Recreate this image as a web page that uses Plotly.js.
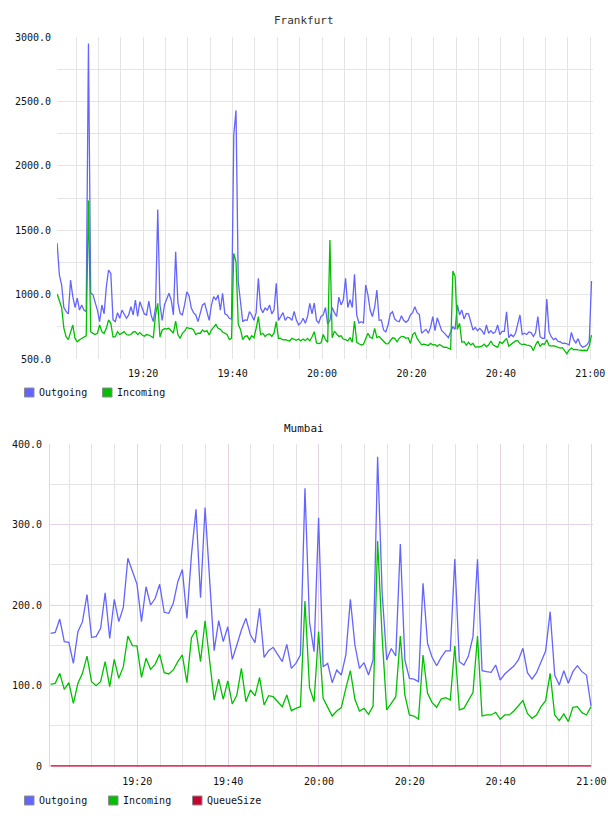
<!DOCTYPE html>
<html>
<head>
<meta charset="utf-8">
<script src="https://cdn.plot.ly/plotly-3.0.1.min.js"></script>
<style>
  html, body { margin: 0; padding: 0; background: #ffffff; }
  #chart { width: 608px; height: 816px; }
</style>
</head>
<body>
<div id="chart"></div>
<script>
// ---- Frankfurt: 30-second samples starting 19:00:46 ----
const frankfurtStart = '19:00:46';
const frankfurtStepSec = 30;
const frankfurtOutgoing = [
  1398,1152,1075,900,870,850,1113,984,900,973,
  880,919,880,867,2950,1012,1000,945,880,790,
  919,850,1061,1191,1165,804,790,860,816,880,
  850,816,842,906,842,958,830,945,896,850,
  842,950,842,790,900,1660,919,800,919,970,
  1010,958,842,1333,940,854,842,920,1022,990,
  896,860,
  842,790,860,920,932,860,800,919,984,960,
  997,880,1010,850,842,816,810,2240,2430,1100,
  960,790,803,800,867,842,800,860,1126,896,
  860,896,880,920,850,880,1088,800,829,860,
  800,825,820,800,870,803,765,780,816,777,
  830,932,850,935,800,780,830,842,900,770,
  800,900,860,830,980,920,960,1126,900,960,
  900,1157,840,780,790,780,1075,997,880,830,
  900,1036,800,803,725,710,764,850,867,810,
  795,790,835,800,785,800,842,860,906,860,
  845,700,715,730,700,745,829,720,820,764,
  720,705,686,665,710,750,730,920,842,880,
  810,854,850,790,725,745,720,738,720,690,
  764,700,720,699,710,764,690,715,715,866,
  665,690,673,700,780,842,690,700,690,710,
  705,675,705,829,673,660,660,966,712,673,
  650,660,636,634,621,623,618,608,706,650,
  625,658,610,592,598,610,640,1105
];
const frankfurtIncoming = [
  1004,945,900,740,673,650,699,764,660,634,
  650,660,673,680,1730,712,699,690,699,764,
  712,699,738,803,777,670,673,712,690,700,
  712,690,686,690,710,712,690,705,686,676,
  690,686,673,665,842,932,670,725,736,733,
  738,720,700,795,690,660,699,716,745,738,
  738,725,
  690,700,700,725,712,720,686,725,745,769,
  738,730,710,700,690,650,660,1320,1255,770,
  730,650,676,680,650,680,665,738,829,690,
  700,675,690,695,675,700,790,660,660,648,
  650,645,640,660,655,645,655,640,655,642,
  660,640,673,712,625,620,625,690,650,630,
  1424,665,716,695,675,680,655,650,640,666,
  630,795,630,618,608,615,655,699,668,660,
  738,666,675,655,634,620,618,640,665,660,
  634,660,676,673,660,665,621,690,705,660,
  635,610,615,612,605,621,610,612,598,612,
  600,590,592,582,575,1183,1140,730,777,630,
  634,608,630,610,621,592,592,595,600,615,
  595,610,640,608,600,590,634,620,640,660,
  600,612,630,640,642,620,612,615,608,606,
  598,565,610,640,598,618,615,650,605,600,
  603,595,590,584,588,565,540,570,585,572,
  575,570,565,566,568,565,600,686
];
const frankfurtTicks = [500, 1000, 1500, 2000, 2500, 3000];

// ---- Mumbai: 1-minute samples starting 19:00:55 ----
const mumbaiStart = '19:00:55';
const mumbaiStepSec = 60;
const mumbaiOutgoing = [
  164.8,166,182.6,154.5,153.6,127.5,166.9,179.3,213,159.8,
  160.7,171,215,158.6,207,179.3,197.1,258,242,226,
  179.3,222.7,200,208,225.7,190.9,189.6,202,229,244,
  183.4,262,319,209,321,232,143.3,180.5,154.5,173,
  132.5,150.3,169,183.4,162.7,153.2,195.9,135,143.3,147.4,
  137.9,129.6,151.1,121.3,127.5,137.9,345,179,142,308.5,
  123.4,127.5,103.5,119.3,113,137.9,207,150.3,121.3,128.4,
  113,131.7,384,215,131.7,146,136.6,275.8,131.7,108.9,
  108,104.8,227,152.4,135,124.6,135,142.9,142.9,257,
  129.6,125.5,136.6,160.7,256.8,118.4,117.2,116.4,125.5,106.8,
  114.3,119.3,124.2,131.7,146.2,115.9,108,115.9,129.6,142.9,
  191.7,113,100.6,118.4,102.7,117.2,124.6,117.2,113,74.5
];
const mumbaiIncoming = [
  101.4,102.7,115.1,95.2,103.5,77.8,102.7,115.1,136.6,104.8,
  99.8,104.8,129.6,98.6,132.5,108.9,123.4,161.5,149.5,149.1,
  110.1,133.7,120.1,126.3,138.7,115.9,114.3,119.3,129.6,137.9,
  103.5,159.4,168.9,129.6,180.5,131,82,108,82.8,105.6,
  77,88.2,121.3,79.9,94.4,87,110.1,75.8,87.4,86.1,
  79.9,73.7,88.2,68.7,71.6,73.7,205,97.7,79.9,166.9,
  84.1,73.7,62.1,68.3,72.5,96.5,118.4,82.8,68.3,71.6,
  64.2,74.5,279.5,160,69.6,77.8,86.1,161.5,88.2,63.4,
  62.1,58.4,137.9,90.3,78.7,72.9,83.2,84.9,82,149.1,
  69.6,71.6,81.2,91.1,161.5,62.1,63.4,63.4,66.7,58,
  63.4,63.4,68.3,74.5,81.2,65.4,59.2,63.4,73.7,81.2,
  115.1,63.4,56.3,64.6,55.1,72.9,73.7,66.3,63.4,73.7
];
const mumbaiQueueSize = [
  0,0,0,0,0,0,0,0,0,0,
  0,0,0,0,0,0,0,0,0,0,
  0,0,0,0,0,0,0,0,0,0,
  0,0,0,0,0,0,0,0,0,0,
  0,0,0,0,0,0,0,0,0,0,
  0,0,0,0,0,0,0,0,0,0,
  0,0,0,0,0,0,0,0,0,0,
  0,0,0,0,0,0,0.5,0.5,0.5,0,
  0,0,0,0,0,0,0,0,0,0,
  0,0,0,0,0,0,0,0,0,0,
  0,0,0,0,0,0,0,0,0,0,
  0,0,0,0,0,0,0,0,0,0
];
const mumbaiTicks = [0, 100, 200, 300, 400];
const mumbaiTickText = ['0', '100.0', '200.0', '300.0', '400.0'];

const seriesNames = ['Outgoing', 'Incoming', 'QueueSize'];
const seriesColors = ['#6464ff', '#00c000', '#cc0033'];

// ---- time helpers ----
const DAY = '2013-03-20';
function toSec(hms) {
  const p = hms.split(':').map(Number);
  return p[0] * 3600 + p[1] * 60 + p[2];
}
function pad(n) { return String(n).padStart(2, '0'); }
function stamp(sec) {
  const h = Math.floor(sec / 3600), m = Math.floor((sec % 3600) / 60), s = sec % 60;
  return DAY + ' ' + pad(h) + ':' + pad(m) + ':' + pad(s);
}
function timeline(start, step, n) {
  const s0 = toSec(start);
  const out = [];
  for (let i = 0; i < n; i++) out.push(stamp(s0 + i * step));
  return out;
}

const fx = timeline(frankfurtStart, frankfurtStepSec, frankfurtOutgoing.length);
const mx = timeline(mumbaiStart, mumbaiStepSec, mumbaiOutgoing.length);

const LINE_W = 1.3;
function lineTrace(x, y, k, xa, ya, w) {
  return {
    type: 'scatter', mode: 'lines', x: x, y: y, name: seriesNames[k],
    xaxis: xa, yaxis: ya, showlegend: false, hoverinfo: 'skip',
    line: { color: seriesColors[k], width: w || LINE_W }
  };
}

const data = [
  lineTrace(fx, frankfurtOutgoing, 0, 'x', 'y'),
  lineTrace(fx, frankfurtIncoming, 1, 'x', 'y'),
  lineTrace(mx, mumbaiQueueSize, 2, 'x2', 'y2', 1.6),
  lineTrace(mx, mumbaiIncoming, 1, 'x2', 'y2'),
  lineTrace(mx, mumbaiOutgoing, 0, 'x2', 'y2')
];

const W = 608, H = 816;
const px = v => v / W;
const py = v => 1 - v / H;

const FONT = 'DejaVu Sans Mono, monospace';
const GRID = '#e4e4e4';
const GRID_MAJOR = '#e6d3e8';
const TEXT = '#111111';
const tickFont = { family: FONT, size: 10, color: TEXT };

// Mumbai value axis: a sliver below zero keeps the baseline series fully visible
const MUMBAI_FLOOR = -1;
const MUMBAI_PX_PER_UNIT = (766 - 444) / 400;

// legend rows under each panel: square swatch followed by the series name
const legendRows = [
  { y: 392.5, items: [{ k: 0, x: 24.5 }, { k: 1, x: 102.5 }] },
  { y: 800.5, items: [{ k: 0, x: 24.5 }, { k: 1, x: 108.5 }, { k: 2, x: 192.5 }] }
];
const SW = 9.5, SH = 9;
const shapes = [];
const annotations = [
  { text: 'Frankfurt', xref: 'paper', yref: 'paper', x: 0.5, y: py(20.5), xanchor: 'center', yanchor: 'middle',
    showarrow: false, font: { family: FONT, size: 11, color: '#333333' } },
  { text: 'Mumbai', xref: 'paper', yref: 'paper', x: 0.5, y: py(428.5), xanchor: 'center', yanchor: 'middle',
    showarrow: false, font: { family: FONT, size: 11, color: TEXT } }
];
legendRows.forEach(row => {
  row.items.forEach(it => {
    shapes.push({
      type: 'rect', xref: 'paper', yref: 'paper', layer: 'above',
      x0: px(it.x), x1: px(it.x + SW), y0: py(row.y + SH / 2), y1: py(row.y - SH / 2),
      fillcolor: seriesColors[it.k], line: { color: '#8c8c8c', width: 1 }
    });
    annotations.push({
      text: seriesNames[it.k], xref: 'paper', yref: 'paper',
      x: px(it.x + SW + 4), y: py(row.y), xanchor: 'left', yanchor: 'middle',
      showarrow: false, borderpad: 0, font: { family: FONT, size: 10, color: TEXT }
    });
  });
});

const layout = {
  width: W, height: H,
  margin: { l: 0, r: 0, t: 0, b: 0 },
  paper_bgcolor: '#ffffff', plot_bgcolor: '#ffffff',
  font: { family: FONT, size: 10, color: TEXT },
  showlegend: false,
  hovermode: false,
  xaxis: {
    domain: [px(57), px(593)], anchor: 'y', type: 'date',
    range: [DAY + ' 19:00:44', DAY + ' 21:00:36'],
    tick0: DAY + ' 19:00:00', dtick: 20 * 60 * 1000, tickformat: '%H:%M',
    showgrid: true, gridcolor: GRID, gridwidth: 1,
    minor: { dtick: 5 * 60 * 1000, tick0: DAY + ' 19:00:00', showgrid: true, gridcolor: GRID, gridwidth: 1 },
    zeroline: false, showline: false, ticks: '', ticklabelstandoff: 7, tickfont: tickFont
  },
  yaxis: {
    domain: [py(359), py(37)], anchor: 'x',
    range: [500, 3000], tickmode: 'array', tickvals: frankfurtTicks, tickformat: '.1f',
    showgrid: false,
    minor: { dtick: 250, tick0: 0, showgrid: true, gridcolor: GRID, gridwidth: 1 },
    zeroline: false, showline: false, ticks: '', ticklabelstandoff: 5, tickfont: tickFont
  },
  xaxis2: {
    domain: [px(50), px(593)], anchor: 'y2', type: 'date',
    range: [DAY + ' 19:00:46', DAY + ' 21:00:21'],
    tick0: DAY + ' 19:00:00', dtick: 20 * 60 * 1000, tickformat: '%H:%M',
    showgrid: true, gridcolor: GRID_MAJOR, gridwidth: 1,
    minor: { dtick: 5 * 60 * 1000, tick0: DAY + ' 19:00:00', showgrid: true, gridcolor: GRID, gridwidth: 1 },
    zeroline: false, showline: false, ticks: '', ticklabelstandoff: 7, tickfont: tickFont
  },
  yaxis2: {
    domain: [py(766 - MUMBAI_FLOOR * MUMBAI_PX_PER_UNIT), py(444)], anchor: 'x2',
    range: [MUMBAI_FLOOR, 400], tickmode: 'array', tickvals: mumbaiTicks, ticktext: mumbaiTickText,
    showgrid: true, gridcolor: GRID_MAJOR, gridwidth: 1,
    minor: { dtick: 50, tick0: 0, showgrid: true, gridcolor: GRID, gridwidth: 1 },
    zeroline: false, showline: true, linecolor: GRID_MAJOR, linewidth: 1, mirror: false,
    ticks: '', ticklabelstandoff: 5, tickfont: tickFont
  },
  shapes: shapes,
  annotations: annotations
};

Plotly.newPlot('chart', data, layout, { displayModeBar: false, staticPlot: true });
</script>
</body>
</html>
